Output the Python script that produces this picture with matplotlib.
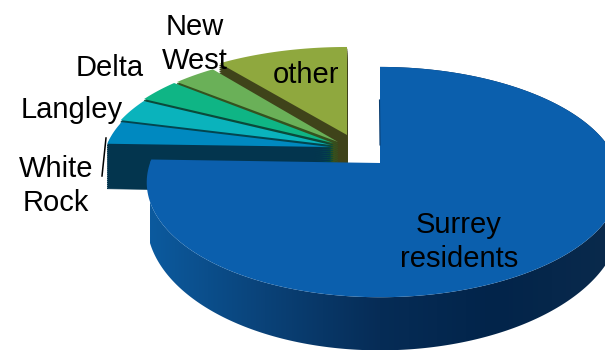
"""Exploded 3D-look pie of where the students come from."""

import matplotlib

matplotlib.use("Agg")
import matplotlib.pyplot as plt
import numpy as np
from matplotlib.colors import LinearSegmentedColormap
from matplotlib.patches import Polygon

plt.rcParams["font.family"] = ["Liberation Sans", "DejaVu Sans"]

# clockwise from 12 o'clock
slice_names = ["Surrey residents", "White Rock", "Langley", "Delta", "New West", "other"]
slice_shares = [75.5, 3.5, 3.5, 3.5, 3.5, 10.5]

# styling / layout only
top_colors = ["#0b5fad", "#0089c0", "#0ab3bc", "#0fb585", "#6ab058", "#8fa83e"]
side_colors = ["#062c56", "#03354e", "#03454f", "#0a4a3a", "#35521f", "#3f431a"]
apexes = [(380, 163), (330, 147), (331, 145), (333, 143), (338, 142), (347, 135)]
radius_x = [233.5, 224, 226, 228, 231, 235]
radius_y = [112, 104, 104, 104, 104, 102.6]
skew = [3.5, 0, 0, 0, 0, 0]
tilt = 0.1656
depth = 37
side_ramp = LinearSegmentedColormap.from_list(
    "side", ["#0c5a9e", "#0a4278", "#062c56", "#02244a", "#0a2a4c"]
)


def project(theta, i):
    """Map clockwise-from-north angles on the disc to picture coordinates."""
    u, v = np.sin(theta), np.cos(theta)
    w = 1 + tilt * v
    x = apexes[i][0] + (radius_x[i] + skew[i] * u) * u / w
    y = apexes[i][1] - radius_y[i] * v / w
    return x, y, w


def wedge_outline(start, end, i):
    x, y, _ = project(np.linspace(start, end, 200), i)
    return np.r_[apexes[i][0], x, apexes[i][0]], np.r_[apexes[i][1], y, apexes[i][1]]


fig = plt.figure(figsize=(6.05, 3.5), dpi=100)
ax = fig.add_axes([0, 0, 1, 1])

edges = np.radians(np.r_[0, np.cumsum(slice_shares)] * 3.6)

# small slices, back to front, then the big one on top
for i in range(len(slice_shares) - 1, 0, -1):
    x, y = wedge_outline(edges[i], edges[i + 1], i)
    for drop in np.linspace(45, 0, 24)[:-1]:
        ax.fill(x, y + drop, color=side_colors[i], lw=0.5, zorder=2 + (6 - i))
    ax.fill(x, y, color=top_colors[i], lw=0, zorder=2 + (6 - i) + 0.5)

# rim of the big slice: a horizontal gradient clipped to the swept outline
x, y, w = project(np.linspace(edges[0], edges[1], 400), 0)
rim = np.c_[np.r_[x, x[::-1]], np.r_[y, (y + depth / w**2)[::-1]]]
image = ax.imshow(
    np.linspace(0, 1, 256)[None, :],
    cmap=side_ramp,
    extent=(150, 610, 350, 0),
    aspect="auto",
    zorder=20,
)
image.set_clip_path(Polygon(rim, transform=ax.transData))

x, y = wedge_outline(edges[0], edges[1], 0)
ax.fill(x, y, color=top_colors[0], lw=0, zorder=21)
ax.plot([379.5, 380], [100, 145], color="#0a3d70", lw=0.8, zorder=22)

# leader for White Rock
ax.plot([106, 102], [138, 176], color="black", lw=1.1, zorder=22)

label_style = dict(fontsize=21, color="black", ha="center", va="center", linespacing=1.3, zorder=25)
ax.text(459, 242, "Surrey\nresidents", **label_style)
ax.text(56, 186, "White\nRock", **label_style)
ax.text(72, 110, "Langley", **label_style)
ax.text(110, 68, "Delta", **label_style)
ax.text(195, 44, "New\nWest", **label_style)
ax.text(306, 75, "other", **label_style)

ax.set_xlim(0, 605)
ax.set_ylim(350, 0)
ax.axis("off")

fig.savefig("out.png", dpi=100)
plt.close(fig)
